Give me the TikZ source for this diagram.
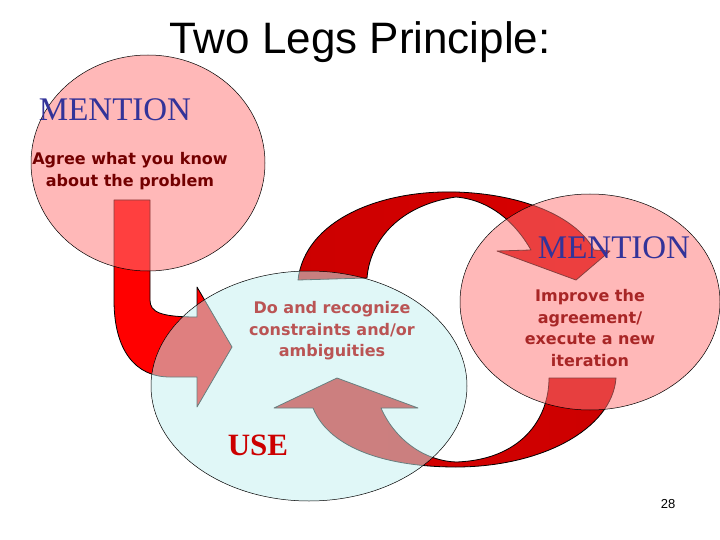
\documentclass[tikz,border=0pt]{standalone}
\usepackage{fontspec}
\setmainfont{Liberation Serif}
\newfontfamily\titlefont{Liberation Sans}
\newfontfamily\txtfont{DejaVu Sans}
\definecolor{pinkfill}{rgb}{1,0.47,0.47}
\definecolor{cyanfill}{rgb}{0.77,0.94,0.94}
\definecolor{darkarr}{HTML}{CC0000}
\definecolor{mention}{HTML}{333399}
\begin{document}
\begin{tikzpicture}[x=1pt,y=-1pt,
  bubble/.style={draw=black,line width=0.5pt,fill=pinkfill,fill opacity=0.53},
  arr/.style={draw=black,line width=0.8pt,line join=round},
  body/.style={font=\txtfont\bfseries\fontsize{16}{21.5}\selectfont,align=center},
  big/.style={font=\fontsize{33}{33}\selectfont,text=mention}]
\useasboundingbox (0,0) rectangle (720,540);
\node[font=\titlefont\fontsize{44}{44}\selectfont] (title) at (360,42) {Two Legs Principle:};
% arrows
\path[arr,fill=red] (114,200) -- (150,200) -- (150,300) .. controls (150,312) and (160,317) .. (197,317)
  -- (197,287) -- (232,347) -- (197,407) -- (197,377) -- (170,377) .. controls (135,377) and (114,350) .. (114,300) -- cycle;
\path[arr,left color=darkarr,right color=red!85!black] (298,280) .. controls (305,220) and (380,190) .. (456,192)
  .. controls (520,194) and (575,215) .. (594,250) -- (610,251) -- (576,280) -- (497,251) -- (531,250)
  .. controls (515,222) and (490,200) .. (456,197) .. controls (400,205) and (370,240) .. (367,278) -- cycle;
\path[arr,left color=red!85!black,right color=darkarr] (616,378) .. controls (612,430) and (540,467) .. (456,467)
  .. controls (390,467) and (330,450) .. (313,408) -- (274,408) -- (337,378) -- (418,408) -- (381,408)
  .. controls (395,440) and (425,461) .. (456,462) .. controls (520,460) and (549,420) .. (549,378) -- cycle;
% bubbles
\path[bubble] (148,163) ellipse[x radius=117,y radius=108];
\path[bubble,fill=cyanfill] (309,386) ellipse[x radius=158,y radius=115];
\path[bubble] (590,302) ellipse[x radius=130,y radius=108];
% texts
\node[big] (m1) at (115,110) {MENTION};
\node[big] (m2) at (614,248) {MENTION};
\node[font=\bfseries\fontsize{31}{31}\selectfont,text=darkarr] (use) at (258,445) {USE};
\node[body,text=black!55!red] (t1) at (130,171) {Agree what you know\\about the problem};
\node[body,text=black!45!white!60!red] (t2) at (332,331) {Do and recognize\\constraints and/or\\ambiguities};
\node[body,text=red!60!black!85!white] (t3) at (590,328) {Improve the\\agreement/\\execute a new\\iteration};
\node[font=\titlefont\fontsize{13}{13}\selectfont] (pg) at (668,504) {28};
\end{tikzpicture}
\end{document}
